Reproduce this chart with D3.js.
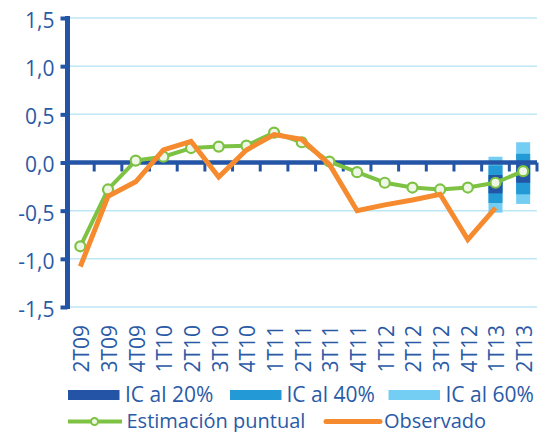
<!DOCTYPE html>
<html><head><meta charset="utf-8">
<script src="https://cdn.jsdelivr.net/npm/d3@7"></script>
<style>
html,body{margin:0;padding:0;background:#fff;}
svg{display:block;font-family:"Open Sans",sans-serif;}
</style></head>
<body><svg id="c" width="540" height="432"></svg>
<script>
const categories = ["2T09","3T09","4T09","1T10","2T10","3T10","4T10","1T11","2T11","3T11","4T11","1T12","2T12","3T12","4T12","1T13","2T13"];
const estimacion = [-0.87,-0.28,0.02,0.06,0.15,0.165,0.175,0.31,0.21,0.01,-0.10,-0.21,-0.26,-0.28,-0.26,-0.21,-0.09];
const observado = [-1.08,-0.35,-0.20,0.13,0.22,-0.15,0.13,0.29,0.24,-0.02,-0.50,-0.44,-0.39,-0.33,-0.80,-0.47,null];
const ciCategories = ["1T13","2T13"];
const ci60 = [[-0.52,0.06],[-0.43,0.21]];
const ci40 = [[-0.42,-0.03],[-0.33,0.09]];
const ci20 = [[-0.32,-0.13],[-0.21,-0.02]];
const yTicks = [-1.5,-1.0,-0.5,0,0.5,1.0,1.5];
const legendLabels = ["IC al 20%","IC al 40%","IC al 60%","Estimación puntual","Observado"];

const C = {axis:"#2354a5", text:"#2a5aa6", grid:"#bde6f6", c20:"#2354a5", c40:"#2399d5", c60:"#74cdf3", green:"#7dc243", orange:"#f68a2e"};

const svg = d3.select("#c");
const x = d3.scaleBand().domain(categories).range([66.5,537]);
const y = d3.scaleLinear().domain([-1.5,1.5]).range([307,18]);
const cx = d => x(d)+x.bandwidth()/2;
const fmt = v => d3.format(".1f")(v).replace(".",",").replace("−","-");

// gridlines
svg.append("g").selectAll("line").data(yTicks.filter(v=>v!==0)).join("line")
  .attr("x1",67).attr("x2",537).attr("y1",d=>y(d)).attr("y2",d=>y(d))
  .attr("stroke",C.grid).attr("stroke-width",1.5);

// CI bars
const bw = 14;
[[ci60,C.c60],[ci40,C.c40],[ci20,C.c20]].forEach(([arr,col])=>{
  svg.append("g").selectAll("rect").data(arr).join("rect")
    .attr("x",(d,i)=>cx(ciCategories[i])-bw/2).attr("width",bw)
    .attr("y",d=>y(d[1])).attr("height",d=>y(d[0])-y(d[1]))
    .attr("fill",col);
});

// zero axis with ticks between categories
svg.append("line").attr("x1",67).attr("x2",537).attr("y1",y(0)).attr("y2",y(0))
  .attr("stroke",C.axis).attr("stroke-width",4.5);
svg.append("g").selectAll("line").data(categories).join("line")
  .attr("x1",d=>x(d)+x.bandwidth()).attr("x2",d=>x(d)+x.bandwidth())
  .attr("y1",y(0)).attr("y2",y(0)+9)
  .attr("stroke",C.axis).attr("stroke-width",3);

// left axis
const yAxis = d3.axisLeft(y).tickValues(yTicks).tickSize(7).tickFormat(fmt);
const ya = svg.append("g").attr("transform","translate(67.5,0)").call(yAxis);
ya.select(".domain").attr("stroke",C.axis).attr("stroke-width",5).attr("d","M0,16V309");
ya.selectAll(".tick line").attr("stroke",C.axis).attr("stroke-width",4);
ya.selectAll(".tick text").attr("fill",C.text).attr("font-size",21).attr("font-family","'Open Sans',sans-serif")
  .attr("x",-13).attr("dy","0.66em").attr("transform","translate(0,-4.5)");

// x labels
svg.append("g").selectAll("text").data(categories).join("text")
  .attr("transform",d=>`translate(${cx(d)+9},325) rotate(-90)`)
  .attr("text-anchor","end").attr("fill",C.text).attr("font-size",21)
  .text(d=>d);

// estimacion line
const line = d3.line().defined(d=>d[1]!=null).x(d=>cx(d[0])).y(d=>y(d[1]));
svg.append("path").datum(categories.map((c,i)=>[c,estimacion[i]]))
  .attr("d",line).attr("fill","none").attr("stroke",C.green).attr("stroke-width",4).attr("stroke-linejoin","round");
svg.append("g").selectAll("circle").data(categories.map((c,i)=>[c,estimacion[i]])).join("circle")
  .attr("cx",d=>cx(d[0])).attr("cy",d=>y(d[1])).attr("r",5)
  .attr("fill","#eef7e6").attr("stroke",C.green).attr("stroke-width",2.2);

// observado
svg.append("path").datum(categories.map((c,i)=>[c,observado[i]]))
  .attr("d",line).attr("fill","none").attr("stroke",C.orange).attr("stroke-width",5).attr("stroke-linejoin","miter");

// legend
const lg = svg.append("g").attr("font-size",21).attr("fill",C.text);
const sw = [{x:68,col:C.c20,tx:125},{x:230,col:C.c40,tx:286.5},{x:388.5,col:C.c60,tx:445.5}];
sw.forEach((s,i)=>{
  lg.append("rect").attr("x",s.x).attr("y",390).attr("width",51.5).attr("height",10).attr("fill",s.col);
  lg.append("text").attr("x",s.tx).attr("y",401.5).text(legendLabels[i]);
});
lg.append("line").attr("x1",68).attr("x2",122).attr("y1",421.5).attr("y2",421.5).attr("stroke",C.green).attr("stroke-width",4);
lg.append("circle").attr("cx",94.5).attr("cy",421.5).attr("r",3.5).attr("fill","#eef7e6").attr("stroke",C.green).attr("stroke-width",2);
lg.append("text").attr("x",126.5).attr("y",427.5).attr("font-size",20).text(legendLabels[3]);
lg.append("line").attr("x1",326).attr("x2",380).attr("y1",421.5).attr("y2",421.5).attr("stroke",C.orange).attr("stroke-width",5).attr("stroke-linecap","round");
lg.append("text").attr("x",384).attr("y",427.5).attr("font-size",20).text(legendLabels[4]);
</script></body></html>
